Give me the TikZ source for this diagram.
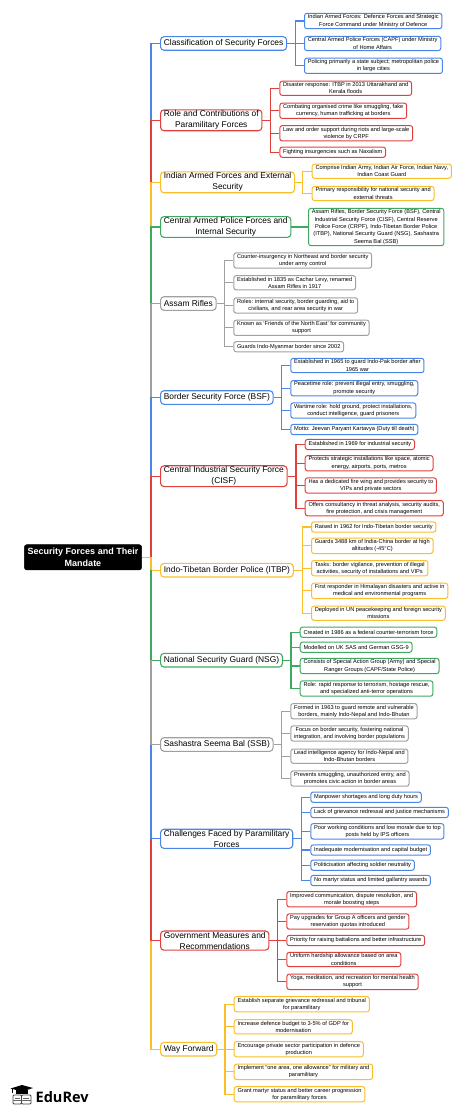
\documentclass[tikz,border=0pt]{standalone}
\usepackage{fontspec}
\setmainfont{Liberation Sans}
\newfontfamily\logofont{Open Sans}
\usetikzlibrary{positioning}
\definecolor{bluec}{HTML}{4A86E8}
\definecolor{redc}{HTML}{E0403C}
\definecolor{yellowc}{HTML}{F9BE28}
\definecolor{greenc}{HTML}{3FA95F}
\definecolor{grayc}{HTML}{A0A0A0}

\begin{document}
\begin{tikzpicture}[x=1pt,y=-1pt]
		% styles
		\tikzset{
			rootbox/.style={draw=black, fill=black, text=white, rounded corners=2.5pt, align=center, inner xsep=3.4pt, inner ysep=1pt, font=\fontsize{9}{12}\selectfont\bfseries, minimum height=25.3pt},
			catbox/.style={draw, line width=1.1pt, rounded corners=3.5pt, align=center, anchor=west, inner xsep=3.3pt, inner ysep=1pt, minimum height=13.6pt, font=\fontsize{8.4}{11}\selectfont},
			leafbox/.style={draw, line width=1pt, rounded corners=2.5pt, align=center, anchor=west, inner xsep=3.3pt, inner ysep=1.4pt, minimum height=10.3pt, font=\fontsize{5.65}{7.33}\selectfont},
			blueline/.style={draw=bluec, line width=1.2pt},
			redline/.style={draw=redc, line width=1.2pt},
			yellowline/.style={draw=yellowc, line width=1.2pt},
			greenline/.style={draw=greenc, line width=1.2pt},
			grayline/.style={draw=grayc, line width=1.2pt}
		}
		\useasboundingbox (0,0) rectangle (474,1115);

		% root
		\node[rootbox] (root) at (83,557.3) {Security Forces and Their\\Mandate};

		% categories
		\node[catbox, draw=bluec] (clas) at (160,43.5) {Classification of Security Forces};
		\node[catbox, draw=redc] (role) at (160,120.3) {Role and Contributions of\\Paramilitary Forces};
		\node[catbox, draw=yellowc] (armed) at (160,182.3) {Indian Armed Forces and External\\Security};
		\node[catbox, draw=greenc] (capf) at (160,227) {Central Armed Police Forces and\\Internal Security};
		\node[catbox, draw=grayc] (assam) at (160,303.5) {Assam Rifles};
		\node[catbox, draw=bluec] (bsf) at (160,397.5) {Border Security Force (BSF)};
		\node[catbox, draw=redc] (cisf) at (160,476.2) {Central Industrial Security Force\\(CISF)};
		\node[catbox, draw=yellowc] (itbp) at (160,570.2) {Indo-Tibetan Border Police (ITBP)};
		\node[catbox, draw=greenc] (nsg) at (160,660.2) {National Security Guard (NSG)};
		\node[catbox, draw=grayc] (ssb) at (160,744.5) {Sashastra Seema Bal (SSB)};
		\node[catbox, draw=bluec] (chal) at (160,838.8) {Challenges Faced by Paramilitary\\Forces};
		\node[catbox, draw=redc] (govt) at (160,940.6) {Government Measures and\\Recommendations};
		\node[catbox, draw=yellowc] (way) at (160,1049.2) {Way Forward};

		% leaves
		\node[leafbox, draw=bluec] (clas1) at (304,21) {Indian Armed Forces: Defence Forces and Strategic\\Force Command under Ministry of Defence};
		\node[leafbox, draw=bluec] (clas2) at (304,43.5) {Central Armed Police Forces (CAPF) under Ministry\\of Home Affairs};
		\node[leafbox, draw=bluec] (clas3) at (304,65.8) {Policing primarily a state subject; metropolitan police\\in large cities};

		\node[leafbox, draw=redc] (role1) at (279.3,88.3) {Disaster response: ITBP in 2013 Uttarakhand and\\Kerala floods};
		\node[leafbox, draw=redc] (role2) at (279.3,110.8) {Combating organised crime like smuggling, fake\\currency, human trafficking at borders};
		\node[leafbox, draw=redc] (role3) at (279.3,133.3) {Law and order support during riots and large-scale\\violence by CRPF};
		\node[leafbox, draw=redc] (role4) at (279.3,152.2) {Fighting insurgencies such as Naxalism};

		\node[leafbox, draw=yellowc] (armed1) at (311.7,171.2) {Comprise Indian Army, Indian Air Force, Indian Navy,\\Indian Coast Guard};
		\node[leafbox, draw=yellowc] (armed2) at (311.7,193.5) {Primary responsibility for national security and\\external threats};

		\node[leafbox, draw=greenc] (capf1) at (308,227) {Assam Rifles, Border Security Force (BSF), Central\\Industrial Security Force (CISF), Central Reserve\\Police Force (CRPF), Indo-Tibetan Border Police\\(ITBP), National Security Guard (NSG), Sashastra\\Seema Bal (SSB)};

		\node[leafbox, draw=grayc] (assam1) at (233.3,260.5) {Counter-insurgency in Northeast and border security\\under army control};
		\node[leafbox, draw=grayc] (assam2) at (233.3,282.8) {Established in 1835 as Cachar Levy, renamed\\Assam Rifles in 1917};
		\node[leafbox, draw=grayc] (assam3) at (233.3,305.5) {Roles: internal security, border guarding, aid to\\civilians, and rear area security in war};
		\node[leafbox, draw=grayc] (assam4) at (233.3,327.8) {Known as `Friends of the North East' for community\\support};
		\node[leafbox, draw=grayc] (assam5) at (233.3,346.7) {Guards Indo-Myanmar border since 2002};

		\node[leafbox, draw=bluec] (bsf1) at (290.3,365.5) {Established in 1965 to guard Indo-Pak border after\\1965 war};
		\node[leafbox, draw=bluec] (bsf2) at (290.3,388.2) {Peacetime role: prevent illegal entry, smuggling,\\promote security};
		\node[leafbox, draw=bluec] (bsf3) at (290.3,410.5) {Wartime role: hold ground, protect installations,\\conduct intelligence, guard prisoners};
		\node[leafbox, draw=bluec] (bsf4) at (290.3,429.5) {Motto: Jeevan Paryant Kartavya (Duty till death)};

		\node[leafbox, draw=redc] (cisf1) at (304.7,444.5) {Established in 1969 for industrial security};
		\node[leafbox, draw=redc] (cisf2) at (304.7,463.2) {Protects strategic installations like space, atomic\\energy, airports, ports, metros};
		\node[leafbox, draw=redc] (cisf3) at (304.7,485.5) {Has a dedicated fire wing and provides security to\\VIPs and private sectors};
		\node[leafbox, draw=redc] (cisf4) at (304.7,508.2) {Offers consultancy in threat analysis, security audits,\\fire protection, and crisis management};

		\node[leafbox, draw=yellowc] (itbp1) at (311,527) {Raised in 1962 for Indo-Tibetan border security};
		\node[leafbox, draw=yellowc] (itbp2) at (311,545.8) {Guards 3488 km of India-China border at high\\altitudes (-45°C)};
		\node[leafbox, draw=yellowc] (itbp3) at (311,568.2) {Tasks: border vigilance, prevention of illegal\\activities, security of installations and VIPs};
		\node[leafbox, draw=yellowc] (itbp4) at (311,590.8) {First responder in Himalayan disasters and active in\\medical and environmental programs};
		\node[leafbox, draw=yellowc] (itbp5) at (311,613.2) {Deployed in UN peacekeeping and foreign security\\missions};

		\node[leafbox, draw=greenc] (nsg1) at (299.7,632.2) {Created in 1986 as a federal counter-terrorism force};
		\node[leafbox, draw=greenc] (nsg2) at (299.7,647.2) {Modelled on UK SAS and German GSG-9};
		\node[leafbox, draw=greenc] (nsg3) at (299.7,666) {Consists of Special Action Group (Army) and Special\\Ranger Groups (CAPF/State Police)};
		\node[leafbox, draw=greenc] (nsg4) at (299.7,688.5) {Role: rapid response to terrorism, hostage rescue,\\and specialized anti-terror operations};

		\node[leafbox, draw=grayc] (ssb1) at (290.3,711.2) {Formed in 1963 to guard remote and vulnerable\\borders, mainly Indo-Nepal and Indo-Bhutan};
		\node[leafbox, draw=grayc] (ssb2) at (290.3,733.5) {Focus on border security, fostering national\\integration, and involving border populations};
		\node[leafbox, draw=grayc] (ssb3) at (290.3,756.2) {Lead intelligence agency for Indo-Nepal and\\Indo-Bhutan borders};
		\node[leafbox, draw=grayc] (ssb4) at (290.3,778.5) {Prevents smuggling, unauthorized entry, and\\promotes civic action in border areas};

		\node[leafbox, draw=bluec] (chal1) at (310.3,797.2) {Manpower shortages and long duty hours};
		\node[leafbox, draw=bluec] (chal2) at (310.3,812.5) {Lack of grievance redressal and justice mechanisms};
		\node[leafbox, draw=bluec] (chal3) at (310.3,831.3) {Poor working conditions and low morale due to top\\posts held by IPS officers};
		\node[leafbox, draw=bluec] (chal4) at (310.3,850) {Inadequate modernisation and capital budget};
		\node[leafbox, draw=bluec] (chal5) at (310.3,865.2) {Politicisation affecting soldier neutrality};
		\node[leafbox, draw=bluec] (chal6) at (310.3,880.5) {No martyr status and limited gallantry awards};

		\node[leafbox, draw=redc] (govt1) at (286.3,899.2) {Improved communication, dispute resolution, and\\morale boosting steps};
		\node[leafbox, draw=redc] (govt2) at (286.3,921.5) {Pay upgrades for Group A officers and gender\\reservation quotas introduced};
		\node[leafbox, draw=redc] (govt3) at (286.3,940.5) {Priority for raising battalions and better infrastructure};
		\node[leafbox, draw=redc] (govt4) at (286.3,959.5) {Uniform hardship allowance based on area\\conditions};
		\node[leafbox, draw=redc] (govt5) at (286.3,981.8) {Yoga, meditation, and recreation for mental health\\support};

		\node[leafbox, draw=yellowc] (way1) at (233.7,1004.2) {Establish separate grievance redressal and tribunal\\for paramilitary};
		\node[leafbox, draw=yellowc] (way2) at (233.7,1026.8) {Increase defence budget to 3-5\% of GDP for\\modernisation};
		\node[leafbox, draw=yellowc] (way3) at (233.7,1049.2) {Encourage private sector participation in defence\\production};
		\node[leafbox, draw=yellowc] (way4) at (233.7,1071.8) {Implement ``one area, one allowance'' for military and\\paramilitary};
		\node[leafbox, draw=yellowc] (way5) at (233.7,1094.2) {Grant martyr status and better career progression\\for paramilitary forces};

		% trunk
		\coordinate (trunk) at (151,557.3);
		\draw[blueline] (clas.west) -- (clas.west -| trunk) -- (role.west -| trunk);
		\draw[redline] (role.west) -- (role.west -| trunk) -- (armed.west -| trunk);
		\draw[yellowline] (armed.west) -- (armed.west -| trunk) -- (capf.west -| trunk);
		\draw[greenline] (capf.west) -- (capf.west -| trunk) -- (assam.west -| trunk);
		\draw[grayline] (assam.west) -- (assam.west -| trunk) -- (bsf.west -| trunk);
		\draw[blueline] (bsf.west) -- (bsf.west -| trunk) -- (cisf.west -| trunk);
		\draw[redline] (cisf.west) -- (cisf.west -| trunk) -- (trunk);
		\draw[yellowline] (root.east) -- (trunk) -- (itbp.west -| trunk) -- (itbp.west);
		\draw[greenline] (itbp.west -| trunk) -- (nsg.west -| trunk) -- (nsg.west);
		\draw[grayline] (nsg.west -| trunk) -- (ssb.west -| trunk) -- (ssb.west);
		\draw[blueline] (ssb.west -| trunk) -- (chal.west -| trunk) -- (chal.west);
		\draw[redline] (chal.west -| trunk) -- (govt.west -| trunk) -- (govt.west);
		\draw[yellowline] (govt.west -| trunk) -- (way.west -| trunk) -- (way.west);

		% connections to leaves
		\coordinate (clasbus) at (295.3,43.5);
		\draw[blueline] (clas.east) -- (clasbus);
		\draw[blueline] (clasbus) |- (clas1.west);
		\draw[blueline] (clasbus) -- (clas2.west);
		\draw[blueline] (clasbus) |- (clas3.west);

		\coordinate (rolebus) at (270.7,120.3);
		\draw[redline] (role.east) -- (rolebus);
		\draw[redline] (rolebus) |- (role1.west);
		\draw[redline] (rolebus) |- (role2.west);
		\draw[redline] (rolebus) |- (role3.west);
		\draw[redline] (rolebus) |- (role4.west);

		\coordinate (armedbus) at (302.7,182.3);
		\draw[yellowline] (armed.east) -- (armedbus);
		\draw[yellowline] (armedbus) |- (armed1.west);
		\draw[yellowline] (armedbus) |- (armed2.west);

		\draw[greenline] (capf.east) -- (capf1.west);

		\coordinate (assambus) at (224.7,303.5);
		\draw[grayline] (assam.east) -- (assambus);
		\draw[grayline] (assambus) |- (assam1.west);
		\draw[grayline] (assambus) |- (assam2.west);
		\draw[grayline] (assambus) |- (assam3.west);
		\draw[grayline] (assambus) |- (assam4.west);
		\draw[grayline] (assambus) |- (assam5.west);

		\coordinate (bsfbus) at (281.7,397.5);
		\draw[blueline] (bsf.east) -- (bsfbus);
		\draw[blueline] (bsfbus) |- (bsf1.west);
		\draw[blueline] (bsfbus) |- (bsf2.west);
		\draw[blueline] (bsfbus) |- (bsf3.west);
		\draw[blueline] (bsfbus) |- (bsf4.west);

		\coordinate (cisfbus) at (296,476.2);
		\draw[redline] (cisf.east) -- (cisfbus);
		\draw[redline] (cisfbus) |- (cisf1.west);
		\draw[redline] (cisfbus) |- (cisf2.west);
		\draw[redline] (cisfbus) |- (cisf3.west);
		\draw[redline] (cisfbus) |- (cisf4.west);

		\coordinate (itbpbus) at (302.3,570.2);
		\draw[yellowline] (itbp.east) -- (itbpbus);
		\draw[yellowline] (itbpbus) |- (itbp1.west);
		\draw[yellowline] (itbpbus) |- (itbp2.west);
		\draw[yellowline] (itbpbus) |- (itbp3.west);
		\draw[yellowline] (itbpbus) |- (itbp4.west);
		\draw[yellowline] (itbpbus) |- (itbp5.west);

		\coordinate (nsgbus) at (291,660.2);
		\draw[greenline] (nsg.east) -- (nsgbus);
		\draw[greenline] (nsgbus) |- (nsg1.west);
		\draw[greenline] (nsgbus) |- (nsg2.west);
		\draw[greenline] (nsgbus) |- (nsg3.west);
		\draw[greenline] (nsgbus) |- (nsg4.west);

		\coordinate (ssbbus) at (281.7,744.5);
		\draw[grayline] (ssb.east) -- (ssbbus);
		\draw[grayline] (ssbbus) |- (ssb1.west);
		\draw[grayline] (ssbbus) |- (ssb2.west);
		\draw[grayline] (ssbbus) |- (ssb3.west);
		\draw[grayline] (ssbbus) |- (ssb4.west);

		\coordinate (chalbus) at (301.3,838.8);
		\draw[blueline] (chal.east) -- (chalbus);
		\draw[blueline] (chalbus) |- (chal1.west);
		\draw[blueline] (chalbus) |- (chal2.west);
		\draw[blueline] (chalbus) |- (chal3.west);
		\draw[blueline] (chalbus) |- (chal4.west);
		\draw[blueline] (chalbus) |- (chal5.west);
		\draw[blueline] (chalbus) |- (chal6.west);

		\coordinate (govtbus) at (277.7,940.6);
		\draw[redline] (govt.east) -- (govtbus);
		\draw[redline] (govtbus) |- (govt1.west);
		\draw[redline] (govtbus) |- (govt2.west);
		\draw[redline] (govtbus) |- (govt3.west);
		\draw[redline] (govtbus) |- (govt4.west);
		\draw[redline] (govtbus) |- (govt5.west);

		\coordinate (waybus) at (225,1049.2);
		\draw[yellowline] (way.east) -- (waybus);
		\draw[yellowline] (waybus) |- (way1.west);
		\draw[yellowline] (waybus) |- (way2.west);
		\draw[yellowline] (waybus) |- (way3.west);
		\draw[yellowline] (waybus) |- (way4.west);
		\draw[yellowline] (waybus) |- (way5.west);

		% logo
		\node[anchor=west, inner sep=0pt, font=\logofont\fontsize{14.5}{15}\selectfont\bfseries] (logotext) at (35.5,1097) {EduRev};
		\fill[black] (10.5,1088.5) -- (22,1085) -- (33,1088) -- (22,1091.5) -- cycle;
		\fill[black] (15.5,1090) rectangle (28,1093.5);
		\draw[black, line width=0.7pt] (12.5,1089) -- (12.5,1093);
		\draw[black!75, line width=0.8pt, rounded corners=1pt] (13,1095) rectangle (21.5,1104);
		\draw[black!75, line width=0.8pt, rounded corners=1pt] (21.5,1095) rectangle (31,1104);
		\draw[black!60, line width=0.6pt] (15,1098) -- (20,1098) (23,1098) -- (29,1098) (13,1100.5) -- (31,1100.5);
\end{tikzpicture}
\end{document}
